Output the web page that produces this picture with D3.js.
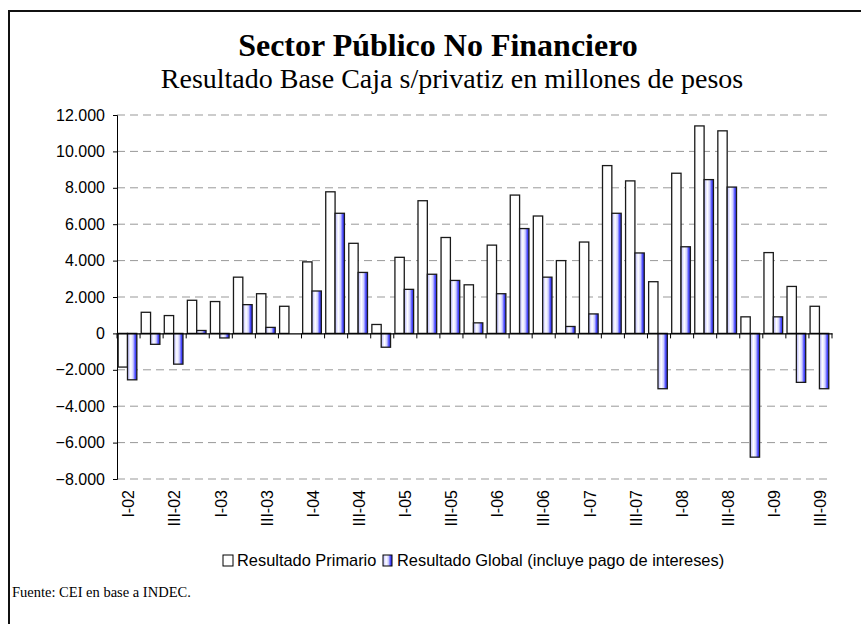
<!DOCTYPE html>
<html>
<head>
<meta charset="utf-8">
<script src="https://cdn.jsdelivr.net/npm/d3@7/dist/d3.min.js"></script>
<style>
  body { margin: 0; background: #fff; }
  svg { display: block; }
</style>
</head>
<body>
<svg class="chart" width="861" height="624"></svg>
<script>
// quarters I-02 .. III-09
var quarters = [
  "I-02","II-02","III-02","IV-02",
  "I-03","II-03","III-03","IV-03",
  "I-04","II-04","III-04","IV-04",
  "I-05","II-05","III-05","IV-05",
  "I-06","II-06","III-06","IV-06",
  "I-07","II-07","III-07","IV-07",
  "I-08","II-08","III-08","IV-08",
  "I-09","II-09","III-09"
];

// Resultado Primario (millones de pesos)
var primario = [
  -1850, 1160, 980, 1820,
  1750, 3090, 2180, 1490,
  3930, 7780, 4950, 490,
  4180, 7290, 5270, 2670,
  4850, 7600, 6450, 4000,
  5020, 9220, 8380, 2840,
  8800, 11400, 11130, 910,
  4440, 2580, 1490
];

// Resultado Global (incluye pago de intereses)
var globalRes = [
  -2550, -600, -1690, 160,
  -250, 1580, 330, 0,
  2330, 6600, 3350, -760,
  2420, 3250, 2910, 580,
  2180, 5760, 3090, 380,
  1070, 6600, 4420, -3040,
  4760, 8450, 8040, -6800,
  910, -2690, -3040
];

var yTicks = [12000, 10000, 8000, 6000, 4000, 2000, 0, -2000, -4000, -6000, -8000];
var seriesNames = ["Resultado Primario", "Resultado Global (incluye pago de intereses)"];

var svg = d3.select("svg.chart");

var sans = "'Liberation Sans', Arial, sans-serif";
var serif = "'Liberation Serif', 'Times New Roman', serif";

// gradient for the global bars
var grad = svg.append("defs").append("linearGradient")
    .attr("id", "blueFill")
    .attr("x1", "0%").attr("x2", "100%")
    .attr("y1", "0%").attr("y2", "0%");
grad.append("stop").attr("offset", "0%").attr("stop-color", "#b4b4ff");
grad.append("stop").attr("offset", "35%").attr("stop-color", "#ffffff");
grad.append("stop").attr("offset", "60%").attr("stop-color", "#d0d0ff");
grad.append("stop").attr("offset", "82%").attr("stop-color", "#4a4aff");
grad.append("stop").attr("offset", "100%").attr("stop-color", "#3030e8");

// outer frame (cut at right and bottom as in original)
svg.append("path")
    .attr("d", "M9,640 L9,11 L880,11")
    .attr("fill", "none")
    .attr("stroke", "#111")
    .attr("stroke-width", 2);

// titles
svg.append("text")
    .attr("x", 438).attr("y", 56)
    .attr("text-anchor", "middle")
    .style("font-family", serif)
    .style("font-weight", "bold")
    .style("font-size", "32px")
    .text("Sector Público No Financiero");

svg.append("text")
    .attr("x", 452).attr("y", 88)
    .attr("text-anchor", "middle")
    .style("font-family", serif)
    .style("font-size", "28px")
    .text("Resultado Base Caja s/privatiz en millones de pesos");

var plotL = 117, plotR = 832, plotT = 115, plotB = 479;

var x = d3.scaleBand()
    .domain(quarters)
    .range([plotL, plotR])
    .paddingInner(0)
    .paddingOuter(0);

var bw = x.bandwidth();
var inner = d3.scaleBand()
    .domain([0, 1])
    .range([bw * 0.05, bw * 0.86])
    .padding(0);

var y = d3.scaleLinear()
    .domain([-8000, 12000])
    .range([plotB, plotT]);

var fmt = function(v) {
  return d3.format(",")(v).replace(/,/g, ".");
};

// gridlines
svg.append("g")
  .selectAll("line")
  .data(yTicks.filter(function(t) { return t !== 0; }))
  .enter().append("line")
    .attr("x1", plotL).attr("x2", plotR)
    .attr("y1", function(d) { return y(d); })
    .attr("y2", function(d) { return y(d); })
    .attr("stroke", "#999")
    .attr("stroke-width", 1)
    .style("stroke-dasharray", "8, 5");

// y axis
var yAxis = d3.axisLeft(y)
    .tickValues(yTicks)
    .tickSize(4)
    .tickFormat(fmt);

var gy = svg.append("g")
    .attr("transform", "translate(" + plotL + ",0)")
    .call(yAxis);
gy.select(".domain").attr("stroke", "#000");
gy.selectAll(".tick line").attr("stroke", "#000");
gy.selectAll(".tick text")
    .attr("x", -12)
    .style("font-family", sans)
    .style("font-size", "16px")
    .attr("fill", "#000");

// bars
var rows = quarters.map(function(q, i) {
  return { q: q, vals: [primario[i], globalRes[i]] };
});

var groups = svg.append("g")
  .selectAll("g")
  .data(rows)
  .enter().append("g")
    .attr("transform", function(d) { return "translate(" + x(d.q) + ",0)"; });

groups.selectAll("rect")
  .data(function(d) {
    return d.vals.map(function(v, k) { return { k: k, v: v }; })
      .filter(function(e) { return e.v !== 0; });
  })
  .enter().append("rect")
    .attr("x", function(d) { return inner(d.k); })
    .attr("width", inner.bandwidth())
    .attr("y", function(d) { return Math.min(y(d.v), y(0)); })
    .attr("height", function(d) { return Math.abs(y(d.v) - y(0)); })
    .attr("fill", function(d) { return d.k === 0 ? "#fff" : "url(#blueFill)"; })
    .attr("stroke", "#1a1a1a")
    .attr("stroke-width", 1.3);

// x axis at zero
var xAxis = d3.axisBottom(x).tickSize(0).tickFormat("");

var gx = svg.append("g")
    .attr("transform", "translate(0," + y(0) + ")")
    .call(xAxis);
gx.select(".domain").attr("stroke", "#000").attr("stroke-width", 1.2);

// tick marks at category boundaries
var bounds = quarters.map(function(q) { return x(q); }).concat([plotR]);
gx.selectAll("line.bound")
  .data(bounds)
  .enter().append("line")
    .attr("class", "bound")
    .attr("x1", function(d) { return d; })
    .attr("x2", function(d) { return d; })
    .attr("y1", 0).attr("y2", 5)
    .attr("stroke", "#000");

// rotated category labels below the plot
svg.append("g")
  .selectAll("text")
  .data(quarters.filter(function(q, i) { return i % 2 === 0; }))
  .enter().append("text")
    .attr("transform", function(d) {
      return "translate(" + (x(d) + bw / 2) + ",490) rotate(-90)";
    })
    .attr("text-anchor", "end")
    .attr("dy", "0.36em")
    .style("font-family", sans)
    .style("font-size", "16px")
    .text(function(d) { return d; });

// legend
var legend = svg.append("g").attr("transform", "translate(0,566)");
legend.append("rect")
    .attr("x", 223).attr("y", -11).attr("width", 10).attr("height", 11)
    .attr("fill", "#fff").attr("stroke", "#000");
legend.append("text")
    .attr("x", 237).attr("y", 0)
    .style("font-family", sans)
    .style("font-size", "16.4px")
    .text(seriesNames[0]);
legend.append("rect")
    .attr("x", 383).attr("y", -11).attr("width", 9).attr("height", 11)
    .attr("fill", "url(#blueFill)").attr("stroke", "#000");
legend.append("text")
    .attr("x", 397).attr("y", 0)
    .style("font-family", sans)
    .style("font-size", "16.4px")
    .text(seriesNames[1]);

// source
svg.append("text")
    .attr("x", 12).attr("y", 597)
    .style("font-family", serif)
    .style("font-size", "14.5px")
    .text("Fuente: CEI en base a INDEC.");
</script>
</body>
</html>
